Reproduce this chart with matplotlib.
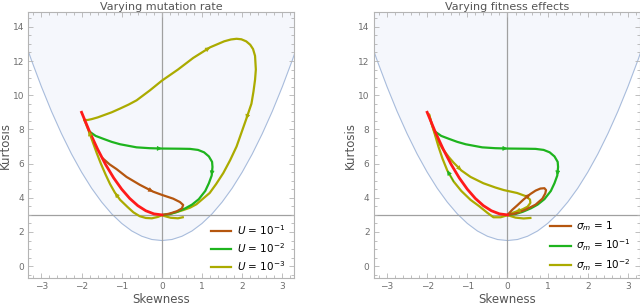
import matplotlib
matplotlib.use('Agg')
import matplotlib.pyplot as plt
from matplotlib.ticker import MultipleLocator

# boundary curve (lower edge of the shaded region)
bound_x = [-3.5, -3.25, -3.0, -2.75, -2.5, -2.25, -2.0, -1.75, -1.5, -1.25, -1.0, -0.75, -0.5, -0.25, 0.0,
           0.25, 0.5, 0.75, 1.0, 1.25, 1.5, 1.75, 2.0, 2.25, 2.5, 2.75, 3.0, 3.25, 3.5]
bound_y = [13.75, 12.06, 10.5, 9.06, 7.75, 6.56, 5.5, 4.56, 3.75, 3.06, 2.5, 2.06, 1.75, 1.56, 1.5,
           1.56, 1.75, 2.06, 2.5, 3.06, 3.75, 4.56, 5.5, 6.56, 7.75, 9.06, 10.5, 12.06, 13.75]

# red reference path
red_x = [-2.0, -1.8, -1.6, -1.4, -1.2, -1.0, -0.8, -0.6, -0.4, -0.2, 0.0]
red_y = [9.0, 7.86, 6.84, 5.94, 5.16, 4.5, 3.96, 3.54, 3.24, 3.06, 3.0]

# shared trajectory (U = 1e-2, sigma_m = 1e-1)
green_x = [-1.79, -1.65, -1.46, -1.25, -1.04, -0.63, -0.3, 0.0, 0.45, 0.7, 0.9, 1.05, 1.17, 1.25, 1.26,
           1.24, 1.17, 1.08, 0.92, 0.75, 0.58, 0.38, 0.2, 0.03]
green_y = [7.85, 7.62, 7.45, 7.27, 7.13, 6.95, 6.9, 6.88, 6.87, 6.86, 6.8, 6.66, 6.42, 6.1, 5.8,
           5.3, 4.85, 4.4, 3.92, 3.6, 3.38, 3.18, 3.05, 3.0]

# left panel: U = 1e-1
u1_x = [-1.47, -1.3, -1.13, -0.88, -0.55, -0.22, 0.0, 0.28, 0.45, 0.53, 0.5, 0.38, 0.2, 0.03]
u1_y = [6.3, 5.95, 5.68, 5.22, 4.76, 4.36, 4.17, 3.95, 3.75, 3.58, 3.38, 3.22, 3.08, 3.0]

# left panel: U = 1e-3 (upper loop and lower branch)
u3a_x = [-1.93, -1.85, -1.75, -1.6, -1.46, -1.25, -1.04, -0.83, -0.63, -0.3, 0.0, 0.4, 0.78, 1.2, 1.55,
         1.72, 1.86, 1.98, 2.1, 2.2, 2.27, 2.32, 2.34, 2.32, 2.28, 2.23, 2.1, 1.98, 1.86, 1.7, 1.53, 1.35,
         1.19, 1.0, 0.86, 0.7, 0.53, 0.35, 0.18, 0.03]
u3a_y = [8.55, 8.55, 8.6, 8.7, 8.82, 9.0, 9.22, 9.45, 9.7, 10.28, 10.85, 11.5, 12.18, 12.8, 13.15,
         13.26, 13.3, 13.27, 13.15, 12.95, 12.7, 12.3, 11.5, 10.9, 10.2, 9.5, 8.6, 7.8, 7.0, 6.2, 5.45, 4.8,
         4.28, 3.9, 3.62, 3.42, 3.28, 3.15, 3.05, 3.0]
u3b_x = [0.52, 0.4, 0.22, 0.08, 0.0, -0.1, -0.25, -0.4, -0.55, -0.71, -0.85, -1.04, -1.17, -1.29, -1.4,
         -1.52, -1.62, -1.72, -1.82, -1.93]
u3b_y = [2.86, 2.8, 2.83, 2.92, 2.98, 2.88, 2.8, 2.82, 2.92, 3.15, 3.45, 3.88, 4.3, 4.8, 5.35,
         6.0, 6.6, 7.25, 7.9, 8.55]

# right panel: sigma_m = 1
s0_x = [0.0, 0.12, 0.24, 0.4, 0.57, 0.7, 0.82, 0.92, 0.96, 0.94, 0.87, 0.7, 0.45, 0.2, 0.02]
s0_y = [3.0, 3.3, 3.55, 3.9, 4.22, 4.42, 4.54, 4.56, 4.45, 4.25, 3.95, 3.6, 3.3, 3.08, 3.0]

# right panel: sigma_m = 1e-2
s2a_x = [-1.95, -1.87, -1.78, -1.68, -1.58, -1.45, -1.34, -1.15, -0.92, -0.6, -0.3, -0.09, 0.24, 0.45,
         0.56, 0.57, 0.5, 0.38, 0.2, 0.05, 0.0]
s2a_y = [8.85, 8.2, 7.6, 7.1, 6.75, 6.35, 6.05, 5.6, 5.22, 4.85, 4.6, 4.45, 4.28, 4.1,
         3.9, 3.7, 3.48, 3.33, 3.18, 3.05, 3.0]
s2b_x = [0.57, 0.4, 0.2, 0.05, 0.0, -0.17, -0.35, -0.5, -0.7, -0.92, -1.15, -1.34, -1.5, -1.62, -1.72,
         -1.82, -1.9, -1.95]
s2b_y = [2.82, 2.79, 2.84, 2.95, 2.98, 2.86, 2.86, 3.12, 3.5, 3.88, 4.4, 4.95, 5.6, 6.3, 7.0,
         7.8, 8.4, 8.85]

c_brown = '#b5560f'
c_green = '#1eb41e'
c_olive = '#abab00'
c_red = '#ff1a1a'
c_frame = '#b4b4b4'
c_text = '#6e6e6e'


def arrow(ax, xs, ys, i, color):
    ax.annotate('', xy=(xs[i + 1], ys[i + 1]), xytext=(xs[i], ys[i]),
                arrowprops=dict(arrowstyle='-|>', color=color, lw=0.5, mutation_scale=7,
                                shrinkA=0, shrinkB=0),
                zorder=4)


def setup(ax, title):
    ax.fill_between(bound_x, bound_y, 20, color='#f5f7fc', lw=0, zorder=0)
    ax.plot(bound_x, bound_y, color='#a8bcdc', lw=0.8, zorder=1)
    ax.axvline(0, color='#a0a0a0', lw=0.9, zorder=1)
    ax.axhline(3, color='#a0a0a0', lw=0.9, zorder=1)
    ax.set_xlim(-3.33, 3.3)
    ax.set_ylim(-0.7, 14.85)
    ax.xaxis.set_major_locator(MultipleLocator(1))
    ax.xaxis.set_minor_locator(MultipleLocator(0.2))
    ax.yaxis.set_major_locator(MultipleLocator(2))
    ax.yaxis.set_minor_locator(MultipleLocator(0.5))
    ax.tick_params(which='both', direction='in', top=True, right=True, color=c_frame,
                   labelcolor=c_text, labelsize=6.5, width=0.6, pad=3)
    ax.tick_params(which='major', length=3.5)
    ax.tick_params(which='minor', length=2)
    ax.set_xticks([-3, -2, -1, 0, 1, 2, 3])
    ax.set_xticklabels(['\u22123', '\u22122', '\u22121', '0', '1', '2', '3'])
    for s in ax.spines.values():
        s.set_color(c_frame)
        s.set_linewidth(0.8)
    ax.set_xlabel('Skewness', color='#555555', fontsize=8.5, labelpad=1)
    ax.set_ylabel('Kurtosis', color='#555555', fontsize=8.5)
    ax.yaxis.set_label_coords(-0.062, 0.5)
    ax.set_title(title, color='#555555', fontsize=8, pad=2)


fig = plt.figure(figsize=(6.4, 3.07), dpi=100)
ax1 = fig.add_axes([0.044, 0.094, 0.416, 0.866])
ax2 = fig.add_axes([0.584, 0.094, 0.416, 0.866])

setup(ax1, 'Varying mutation rate')
ax1.plot(u3b_x, u3b_y, color=c_olive, lw=1.6, zorder=2)
ax1.plot(u3a_x, u3a_y, color=c_olive, lw=1.6, zorder=2)
ax1.plot(green_x, green_y, color=c_green, lw=1.6, zorder=2)
ax1.plot(u1_x, u1_y, color=c_brown, lw=1.6, zorder=2)
ax1.plot(red_x, red_y, color=c_red, lw=2.0, zorder=3)
arrow(ax1, u3a_x, u3a_y, 12, c_olive)
arrow(ax1, u3a_x, u3a_y, 25, c_olive)
arrow(ax1, u3b_x, u3b_y, 17, c_olive)
arrow(ax1, u3b_x, u3b_y, 11, c_olive)
arrow(ax1, green_x, green_y, 6, c_green)
arrow(ax1, green_x, green_y, 14, c_green)
arrow(ax1, u1_x, u1_y, 4, c_brown)
l1, = ax1.plot([], [], color=c_brown, lw=1.6, label=r'$U$ = 10$^{-1}$')
l2, = ax1.plot([], [], color=c_green, lw=1.6, label=r'$U$ = 10$^{-2}$')
l3, = ax1.plot([], [], color=c_olive, lw=1.6, label=r'$U$ = 10$^{-3}$')
ax1.legend(handles=[l1, l2, l3], loc='lower right', frameon=False, fontsize=7.5,
           handlelength=2.0, handletextpad=0.5, labelspacing=0.4,
           bbox_to_anchor=(1.0, -0.015))

setup(ax2, 'Varying fitness effects')
ax2.plot(s2b_x, s2b_y, color=c_olive, lw=1.6, zorder=2)
ax2.plot(s2a_x, s2a_y, color=c_olive, lw=1.6, zorder=2)
ax2.plot(green_x, green_y, color=c_green, lw=1.6, zorder=2)
ax2.plot(s0_x, s0_y, color=c_brown, lw=1.6, zorder=2)
ax2.plot(red_x, red_y, color=c_red, lw=2.0, zorder=3)
arrow(ax2, s2a_x, s2a_y, 6, c_olive)
arrow(ax2, s2b_x, s2b_y, 11, c_green)
arrow(ax2, s2a_x, s2a_y, 17, c_olive)
arrow(ax2, green_x, green_y, 6, c_green)
arrow(ax2, green_x, green_y, 14, c_green)
arrow(ax2, s0_x, s0_y, 3, c_brown)
m1, = ax2.plot([], [], color=c_brown, lw=1.6, label=r'$\sigma_m$ = 1')
m2, = ax2.plot([], [], color=c_green, lw=1.6, label=r'$\sigma_m$ = 10$^{-1}$')
m3, = ax2.plot([], [], color=c_olive, lw=1.6, label=r'$\sigma_m$ = 10$^{-2}$')
ax2.legend(handles=[m1, m2, m3], loc='lower right', frameon=False, fontsize=7.5,
           handlelength=2.0, handletextpad=0.5, labelspacing=0.4,
           bbox_to_anchor=(1.0, -0.015))

fig.savefig('out.png', dpi=100)
